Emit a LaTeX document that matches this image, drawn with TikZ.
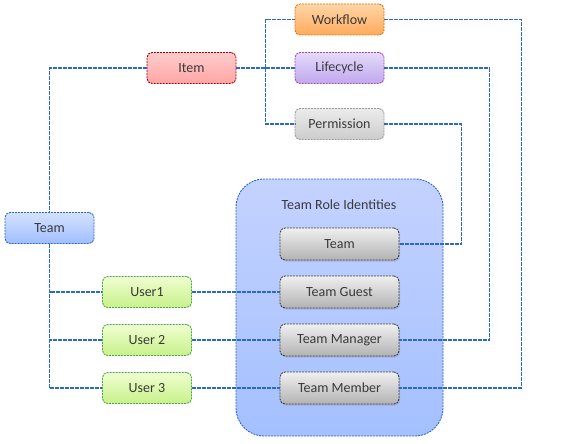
\documentclass[tikz,border=0pt]{standalone}
\usepackage{fontspec}
\setmainfont{Carlito}
\usetikzlibrary{shadows}
\definecolor{linkblue}{HTML}{2A68D0}
\definecolor{darktext}{HTML}{3A3A3A}
\definecolor{panetop}{HTML}{C4D2FF}
\definecolor{panebot}{HTML}{A4C0FF}
\definecolor{teamtop}{HTML}{D4E2FF}
\definecolor{teambot}{HTML}{A0BEFF}
\definecolor{usertop}{HTML}{F0FFD0}
\definecolor{userbot}{HTML}{C8F08A}
\definecolor{worktop}{HTML}{FFD6A8}
\definecolor{workbot}{HTML}{FFAA5C}
\definecolor{lifetop}{HTML}{E4DAFA}
\definecolor{lifebot}{HTML}{C0A8EE}

\begin{document}
\begin{tikzpicture}[x=1pt, y=-1pt,
        every node/.style={text=darktext, font=\fontsize{14}{16}\selectfont},
        box/.style={rounded corners=5pt, minimum width=89pt, minimum height=31pt,
            dash pattern=on 2pt off 1pt, line width=0.9pt},
        role/.style={box, draw=black!75, top color=gray!12, bottom color=gray!60,
            minimum width=119pt, minimum height=32pt,
            drop shadow={opacity=0.3, shadow xshift=1pt, shadow yshift=-1.5pt}},
        link/.style={draw=linkblue, line width=1.6pt, dash pattern=on 4pt off 1pt}]
        % Frame
        \useasboundingbox (0,0) rectangle (563,444);
        % Container of the role identities
        \node (roles) [draw=linkblue, dash pattern=on 2pt off 1pt, line width=0.9pt,
            rounded corners=28pt, top color=panetop, bottom color=panebot,
            minimum width=207pt, minimum height=257pt] at (339.5,307.5) {};
        \node (title) at (339,205) {Team Role Identities};

        % Top boxes
        \node (work) [box, draw=orange!90!black, top color=worktop, bottom color=workbot]
            at (339.5,19.5) {Workflow};
        \node (life) [box, draw=violet!70, top color=lifetop, bottom color=lifebot]
            at (339.5,68) {Lifecycle};
        \node (perm) [box, draw=gray!80, top color=gray!15, bottom color=gray!40]
            at (339.5,124) {Permission};
        \node (item) [box, draw=red!70!black, top color=red!20, bottom color=red!35]
            at (191.5,68) {Item};
        % Team and users
        \node (team) [box, draw=linkblue, top color=teamtop, bottom color=teambot]
            at (49.5,228) {Team};
        \node (user1) [box, draw=green!50!black!70, top color=usertop, bottom color=userbot]
            at (147,292) {User1};
        \node (user2) [box, draw=green!50!black!70, top color=usertop, bottom color=userbot]
            at (147,340) {User 2};
        \node (user3) [box, draw=green!50!black!70, top color=usertop, bottom color=userbot]
            at (147,388) {User 3};
        % Roles
        \node (rteam) [role] at (339.5,244) {Team};
        \node (guest) [role] at (339.5,292) {Team Guest};
        \node (manager) [role] at (339.5,340) {Team Manager};
        \node (member) [role] at (339.5,388) {Team Member};

        % Corner points
        \coordinate (fork) at (265.5,68);
        \coordinate (wr) at (521.5,0);
        \coordinate (lr) at (489.5,0);
        \coordinate (pr) at (461.5,0);

        % Connectors
        \path[link] (item.west) -| (team.north);
        \path[link] (team.south) |- (user1.west);
        \path[link] (team.south) |- (user2.west);
        \path[link] (team.south) |- (user3.west);
        \path[link] (item.east) -- (life.west);
        \path[link] (fork) |- (work.west);
        \path[link] (fork) |- (perm.west);
        \path[link] (work.east) -| (wr |- member.east) -- (member.east);
        \path[link] (life.east) -| (lr |- manager.east) -- (manager.east);
        \path[link] (perm.east) -| (pr |- rteam.east) -- (rteam.east);
        \path[link] (user1.east) -- (guest.west);
        \path[link] (user2.east) -- (manager.west);
        \path[link] (user3.east) -- (member.west);
    \end{tikzpicture}
\end{document}
